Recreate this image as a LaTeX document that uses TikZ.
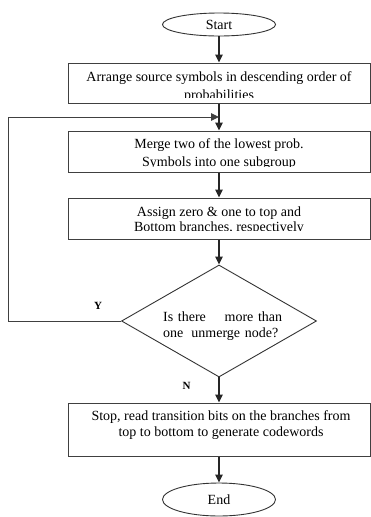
\documentclass[tikz,border=0pt]{standalone}
\usepackage{fontspec}
\setmainfont{Liberation Serif}
\usetikzlibrary{shapes.geometric,arrows.meta}
\tikzset{
  box/.style={draw=black!75, line width=1pt, rectangle, minimum width=302pt, inner sep=0pt},
  term/.style={draw=black!80, line width=0.9pt, ellipse, minimum width=113pt, inner sep=0pt, font=\fontsize{14}{16}\selectfont},
  dec/.style={draw=black!80, line width=0.9pt, diamond, minimum width=195pt, minimum height=112pt, inner sep=0pt},
  txt/.style={anchor=base, inner sep=0pt, font=\fontsize{14}{16}\selectfont},
  lab/.style={anchor=base, inner sep=0pt, font=\fontsize{11}{12}\selectfont\bfseries},
  arr/.style={draw=black!85, line width=1.2pt, -{Triangle[length=8pt,width=7.5pt]}},
  fb/.style={draw=black!75, line width=1pt, -{Triangle[length=8pt,width=7.5pt]}}
}
\begin{document}
\begin{tikzpicture}[x=1pt,y=-1pt]
\useasboundingbox (0,0) rectangle (371,517);
% terminals
\node[term, minimum height=23pt] (s) at (219,24.5) {Start};
\node[term, minimum height=33pt] (e) at (219,499.5) {End};
% boxes
\node[box, minimum height=40pt] (b1) at (219,83) {};
\node[box, minimum height=41pt] (b2) at (219,151.5) {};
\node[box, minimum height=41pt] (b3) at (219,218.5) {};
\node[box, minimum height=53pt] (b4) at (219,429.5) {};
\node[dec] (d) at (219,321) {};
% box texts
\begin{scope}
\clip (68,63) rectangle (370,97.5);
\node[txt] (t1a) at (219,81.5) {Arrange source symbols in descending order of};
\node[txt] (t1b) at (219,99.5) {probabilities};
\end{scope}
\begin{scope}
\clip (68,131) rectangle (370,166);
\node[txt] (t2a) at (219,148.5) {Merge two of the lowest prob.};
\node[txt] (t2b) at (219,166) {Symbols into one subgroup};
\end{scope}
\begin{scope}
\clip (68,198) rectangle (370,230.5);
\node[txt] (t3a) at (219,216) {Assign zero \& one to top and};
\node[txt] (t3b) at (219,231) {Bottom branches, respectively};
\end{scope}
\node[txt] (t4a) at (221,420) {Stop, read transition bits on the branches from};
\node[txt] (t4b) at (221,436.5) {top to bottom to generate codewords};
% diamond text
\node[txt, anchor=base west, text width=119pt, align=left] (dq1) at (163,321) {Is there\hfill more than};
\node[txt, anchor=base west, text width=119pt, align=left] (dq2) at (163,337) {one\hspace{8pt}unmerge node?};
% labels
\node[lab] (ly) at (98,309) {Y};
\node[lab] (ln) at (186.5,389) {N};
% connectors
\coordinate (m) at (219,117);
\coordinate (c) at (8,321);
\draw[arr] (s.south) -- (b1.north);
\draw[arr] (b1.south) -- (b2.north);
\draw[arr] (b2.south) -- (b3.north);
\draw[arr] (b3.south) -- (d.north);
\draw[arr] (d.south) -- (b4.north);
\draw[arr] (b4.south) -- (e.north);
\draw[fb] (d.west) -- (c) |- (m);
\end{tikzpicture}
\end{document}
